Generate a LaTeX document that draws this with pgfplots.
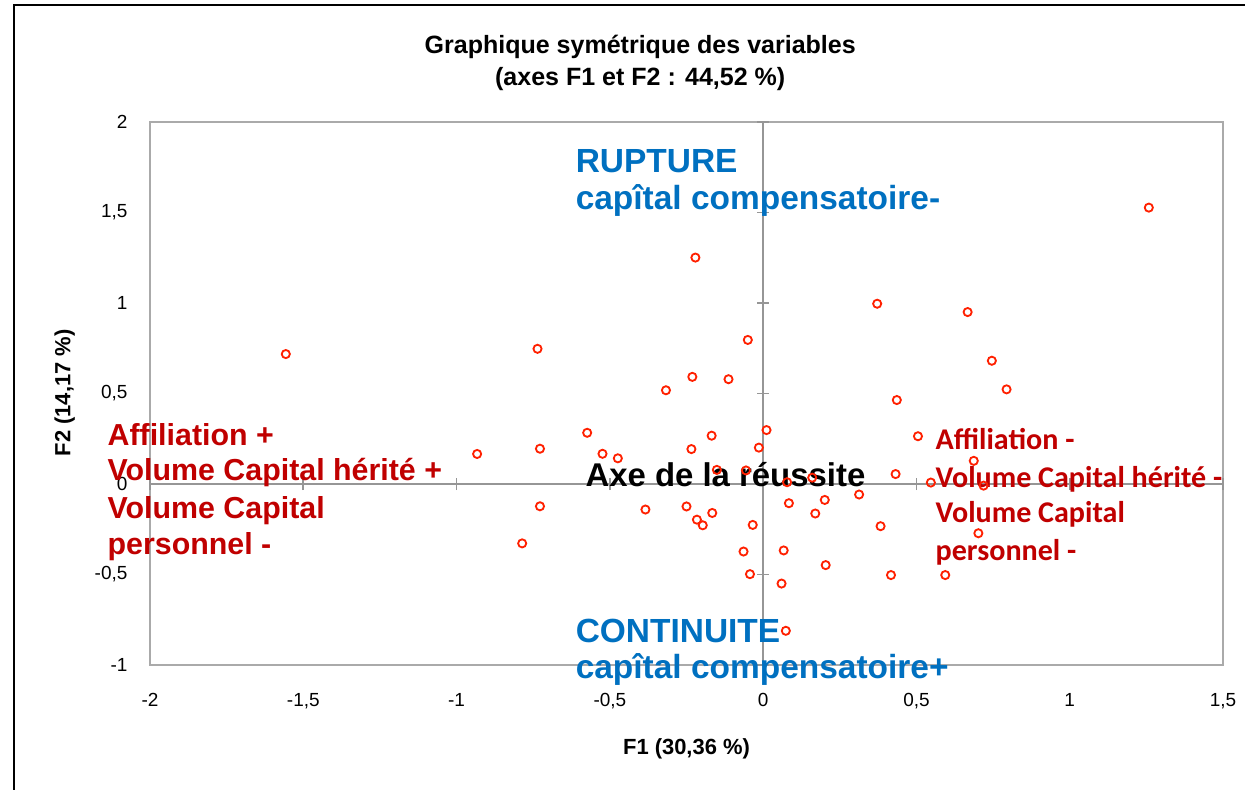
\documentclass[border=0pt]{standalone}
\usepackage{pgfplots}
\pgfplotsset{compat=1.18}
\usepackage{pgfplotstable}
\usepackage{fontspec}
\setmainfont{Liberation Sans}
\newfontfamily\calibri{Carlito}

\definecolor{ptred}{RGB}{255,32,0}
\definecolor{txtred}{RGB}{192,0,0}
\definecolor{txtblue}{RGB}{0,112,192}
\definecolor{framegray}{RGB}{170,170,170}
\definecolor{axisgray}{RGB}{150,150,150}

\tikzset{
  bluetxt/.style={anchor=base west, inner sep=0pt, text=txtblue, font=\fontsize{11.9}{13}\selectfont\bfseries},
  lred/.style={anchor=base west, inner sep=0pt, text=txtred, font=\fontsize{10.8}{12}\selectfont\bfseries},
  rred/.style={anchor=base west, inner sep=0pt, text=txtred, font=\calibri\fontsize{10.7}{12}\selectfont\bfseries},
}

% coordonnees des modalites (F1, F2)
\pgfplotstableread{
x y
-1.557 0.718
-0.736 0.747
-0.050 0.796
-0.231 0.592
-0.113 0.579
-0.317 0.518
-0.574 0.283
0.011 0.298
-0.168 0.267
-0.933 0.166
-0.728 0.195
-0.524 0.167
-0.474 0.142
-0.234 0.193
-0.014 0.201
-0.151 0.078
-0.056 0.075
-0.728 -0.123
-0.384 -0.141
-0.250 -0.124
-0.216 -0.197
-0.197 -0.228
-0.166 -0.160
-0.034 -0.226
-0.786 -0.328
-0.064 -0.373
-0.043 -0.498
1.258 1.527
-0.221 1.251
0.372 0.996
0.667 0.950
0.746 0.681
0.794 0.523
0.436 0.464
0.505 0.264
0.687 0.128
0.432 0.055
0.078 0.010
0.160 0.035
0.547 0.008
0.719 -0.009
0.084 -0.106
0.201 -0.088
0.313 -0.058
0.170 -0.163
0.383 -0.233
0.702 -0.272
0.067 -0.367
0.204 -0.448
0.060 -0.550
0.417 -0.503
0.594 -0.503
0.074 -0.811
}\points

\begin{document}
\begin{tikzpicture}
\useasboundingbox (-1.875,-1.55) rectangle (13.6875,8.3125);
\draw[line width=0.75pt] (-1.7,-1.7) -- (-1.7,8.25) -- (13.8,8.25);

% cadre + etiquettes des graduations
\begin{axis}[
  at={(0,0)}, anchor=south west,
  scale only axis, width=13.4125cm, height=6.7875cm,
  xmin=-2, xmax=1.5, ymin=-1, ymax=2,
  xtick={-2,-1.5,-1,-0.5,0,0.5,1,1.5},
  xticklabels={-2,{-1,5},-1,{-0,5},0,{0,5},1,{1,5}},
  ytick={-1,-0.5,0,0.5,1,1.5,2},
  yticklabels={-1,{-0,5},0,{0,5},1,{1,5},2},
  major tick length=0pt,
  axis line style={draw=framegray, line width=0.6pt},
  tick label style={font=\fontsize{6.75}{8}\selectfont, inner sep=0pt},
  x tick label style={anchor=base, yshift=-0.52cm},
  y tick label style={anchor=east, xshift=-0.275cm},
]
\end{axis}

% axes centraux, points et annotations
\begin{axis}[
  at={(0,0)}, anchor=south west,
  scale only axis, width=13.4125cm, height=6.7875cm,
  xmin=-2, xmax=1.5, ymin=-1, ymax=2,
  axis lines=middle,
  axis line style={-, draw=axisgray, line width=0.7pt},
  xtick={-2,-1.5,-1,-0.5,0,0.5,1,1.5},
  ytick={-1,-0.5,0,0.5,1,1.5,2},
  xticklabels={}, yticklabels={},
  tick align=center, major tick length=0.15cm,
  tick style={draw=axisgray, line width=0.6pt},
  clip=false,
]
\addplot[only marks, mark=o, mark size=1.45pt,
  mark options={draw=ptred, line width=0.65pt}] table {\points};

% titre
\node[anchor=base, inner sep=0pt, font=\fontsize{8.9}{10}\selectfont\bfseries] at (axis cs:-0.401,2.381) {Graphique symétrique des variables};
\node[anchor=base, inner sep=0pt, font=\fontsize{8.9}{10}\selectfont\bfseries] at (axis cs:-0.401,2.204) {(axes F1 et F2 : 44,52 \%)};
% titres des axes
\node[anchor=base, inner sep=0pt, font=\fontsize{7.8}{9}\selectfont\bfseries] at (axis cs:-0.25,-1.492) {F1 (30,36 \%)};
\node[anchor=base, inner sep=0pt, rotate=90, font=\fontsize{7.8}{9}\selectfont\bfseries] at (axis cs:-2.260,0.503) {F2 (14,17 \%)};

\node[bluetxt] at (axis cs:-0.613,1.722) {RUPTURE};
\node[bluetxt] at (axis cs:-0.613,1.519) {capîtal compensatoire-};
\node[bluetxt] at (axis cs:-0.613,-0.877) {CONTINUITE};
\node[bluetxt] at (axis cs:-0.613,-1.076) {capîtal compensatoire+};

\node[lred] at (axis cs:-2.140,0.215) {Affiliation +};
\node[lred] at (axis cs:-2.140,0.017) {Volume Capital hérité +};
\node[lred] at (axis cs:-2.140,-0.188) {Volume Capital};
\node[lred] at (axis cs:-2.140,-0.392) {personnel -};

\node[anchor=base west, inner sep=0pt, font=\fontsize{11.7}{13}\selectfont\bfseries] at (axis cs:-0.581,-0.015) {Axe de la réussite};

\node[rred] at (axis cs:0.561,0.188) {Affiliation -};
\node[rred] at (axis cs:0.561,-0.017) {Volume Capital hérité -};
\node[rred] at (axis cs:0.561,-0.215) {Volume Capital};
\node[rred] at (axis cs:0.561,-0.420) {personnel -};
\end{axis}
\end{tikzpicture}
\end{document}
